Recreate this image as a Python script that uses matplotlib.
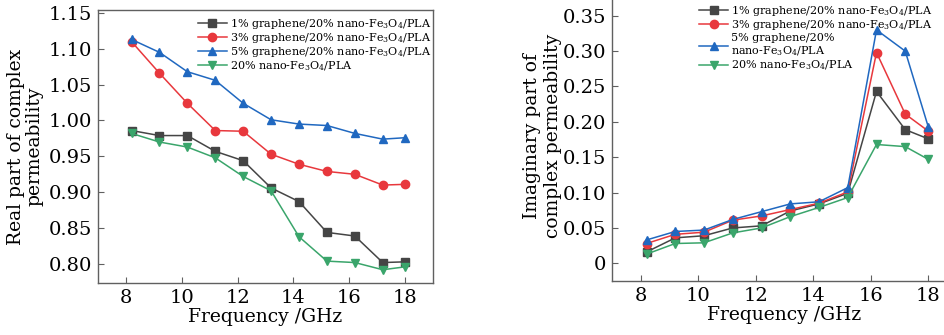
"""Real and imaginary parts of complex permeability vs frequency."""

import matplotlib
matplotlib.use('Agg')
import matplotlib.pyplot as plt
from matplotlib.ticker import FuncFormatter

plt.rcParams['font.family'] = ['DejaVu Serif']
plt.rcParams['mathtext.fontset'] = 'dejavuserif'

freq = [8.2, 9.2, 10.2, 11.2, 12.2, 13.2, 14.2, 15.2, 16.2, 17.2, 18.0]

labels = [r'1% graphene/20% nano-Fe$_3$O$_4$/PLA',
          r'3% graphene/20% nano-Fe$_3$O$_4$/PLA',
          r'5% graphene/20% nano-Fe$_3$O$_4$/PLA',
          r'20% nano-Fe$_3$O$_4$/PLA']
labels_right = [labels[0], labels[1],
                '5% graphene/20%\n' + r'nano-Fe$_3$O$_4$/PLA', labels[3]]

# real part
real_1 = [0.986, 0.979, 0.979, 0.957, 0.944, 0.906, 0.887, 0.844, 0.839, 0.802, 0.803]
real_3 = [1.110, 1.066, 1.024, 0.986, 0.985, 0.953, 0.939, 0.929, 0.925, 0.910, 0.911]
real_5 = [1.113, 1.095, 1.068, 1.056, 1.024, 1.001, 0.995, 0.993, 0.982, 0.974, 0.976]
real_0 = [0.982, 0.970, 0.963, 0.948, 0.922, 0.902, 0.838, 0.804, 0.802, 0.792, 0.796]

# imaginary part
imag_1 = [0.016, 0.036, 0.039, 0.050, 0.053, 0.074, 0.084, 0.099, 0.243, 0.189, 0.176]
imag_3 = [0.028, 0.041, 0.044, 0.061, 0.067, 0.076, 0.085, 0.101, 0.298, 0.211, 0.187]
imag_5 = [0.033, 0.045, 0.047, 0.062, 0.073, 0.084, 0.087, 0.107, 0.330, 0.300, 0.193]
imag_0 = [0.013, 0.028, 0.029, 0.043, 0.050, 0.066, 0.079, 0.093, 0.168, 0.165, 0.147]

colors = ['#454545', '#e8383d', '#2068c0', '#3aa56b']
markers = ['s', 'o', '^', 'v']

fig = plt.figure(figsize=(9.45, 3.35), dpi=100)
ax1 = fig.add_axes([98 / 945, 52 / 335, 335 / 945, 273 / 335])
ax2 = fig.add_axes([612 / 945, 54 / 335, 345 / 945, 290 / 335])


def style(ax):
  for s in ax.spines.values():
    s.set_color('#606060')
    s.set_linewidth(1.0)
  ax.tick_params(direction='in', length=4, width=0.8, color='#606060',
                 labelsize=14, pad=4)
  ax.set_xlim(7, 19)
  ax.set_xticks([8, 10, 12, 14, 16, 18])
  ax.set_xlabel('Frequency /GHz', fontsize=13.5, labelpad=1)


legend_kw = dict(frameon=False, fontsize=8, handlelength=2.6,
                 handletextpad=0.3, borderaxespad=0)

for ys, c, m, lab in zip([real_1, real_3, real_5, real_0], colors, markers, labels):
  ax1.plot(freq, ys, color=c, marker=m, markersize=6, linewidth=1.1, label=lab)
style(ax1)
ax1.set_ylim(0.7735, 1.154)
ax1.set_yticks([0.80, 0.85, 0.90, 0.95, 1.00, 1.05, 1.10, 1.15])
ax1.yaxis.set_major_formatter(FuncFormatter(lambda v, p: f'{v:.2f}'))
ax1.set_ylabel('Real part of complex\npermeability', fontsize=13.5,
               linespacing=1.05, labelpad=4)
ax1.legend(loc='upper left', bbox_to_anchor=(0.285, 0.99), labelspacing=0.0,
           **legend_kw)

for ys, c, m, lab in zip([imag_1, imag_3, imag_5, imag_0], colors, markers, labels_right):
  ax2.plot(freq, ys, color=c, marker=m, markersize=6, linewidth=1.1, label=lab)
style(ax2)
ax2.set_ylim(-0.025, 0.385)
ax2.set_yticks([0, 0.05, 0.10, 0.15, 0.20, 0.25, 0.30, 0.35])
ax2.yaxis.set_major_formatter(
    FuncFormatter(lambda v, p: '0' if abs(v) < 1e-9 else f'{v:.2f}'))
ax2.set_ylabel('Imaginary part of\ncomplex permeability', fontsize=13.5,
               linespacing=1.2, labelpad=1)
ax2.legend(loc='upper left', bbox_to_anchor=(0.24, 0.972), labelspacing=0.05,
           **legend_kw)

plt.savefig('out.png', dpi=100)
